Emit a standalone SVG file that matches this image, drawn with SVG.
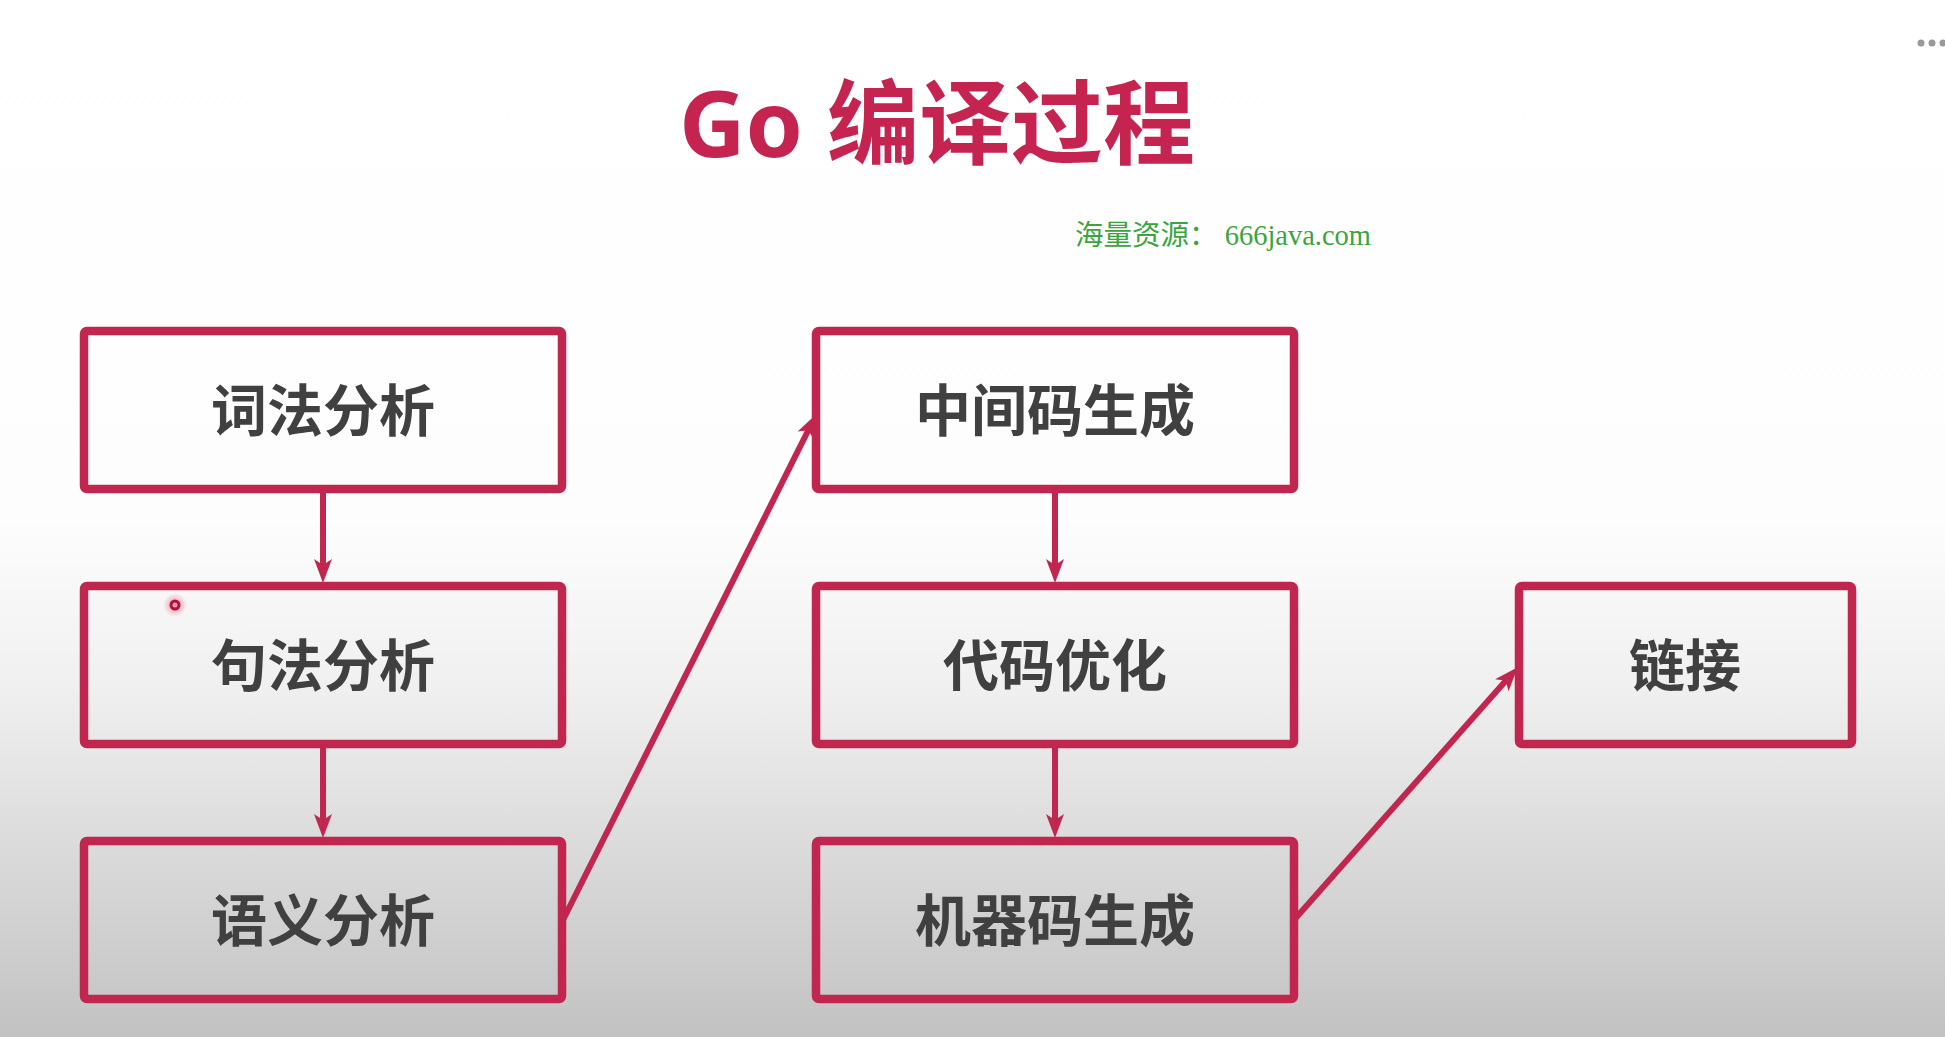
<svg xmlns="http://www.w3.org/2000/svg" width="1945" height="1037" viewBox="0 0 1945 1037">
  <defs>
    <linearGradient id="bg" x1="0" y1="0" x2="0" y2="1">
      <stop offset="0" stop-color="#ffffff"/>
      <stop offset="0.5" stop-color="#fdfdfd"/>
      <stop offset="0.66" stop-color="#f0f0f0"/>
      <stop offset="1" stop-color="#c2c2c2"/>
    </linearGradient>
    <radialGradient id="glow">
      <stop offset="0" stop-color="#f06080" stop-opacity="0.7"/>
      <stop offset="1" stop-color="#f06080" stop-opacity="0"/>
    </radialGradient>
    <marker id="arrow" viewBox="-12 -10 26 20" refX="0" refY="0" markerWidth="26" markerHeight="20" markerUnits="userSpaceOnUse" orient="auto">
      <path d="M13,0 L-11,-9 L-5,0 L-11,9 Z" fill="#c0264e"/>
    </marker>
  </defs>
  <style>
    .box { fill: none; stroke: #c0264e; stroke-width: 8.5; }
    .lbl { font-family: "Noto Sans CJK SC", "Noto Sans", sans-serif; font-weight: 700; font-size: 56px; fill: #404040; text-anchor: middle; }
    .conn { fill: none; stroke: #c0264e; stroke-width: 6; marker-end: url(#arrow); }
  </style>
  <rect x="0" y="0" width="1945" height="1037" fill="url(#bg)"/>

  <text x="937" y="157" font-family="'Noto Sans', 'Noto Sans CJK SC', sans-serif" font-weight="700" font-size="92" fill="#c4244f" text-anchor="middle">Go 编译过程</text>
  <text x="1075" y="245" font-family="'Liberation Serif', 'Noto Sans CJK SC', serif" font-size="28.5" fill="#3aa53f" xml:space="preserve">海量资源： 666java.com</text>

  <g fill="#999999">
    <circle cx="1921" cy="43" r="3.5"/>
    <circle cx="1932" cy="43" r="3.5"/>
    <circle cx="1943" cy="43" r="3.5"/>
  </g>

  <g id="connectors">
    <path class="conn" d="M323,493 L323,570"/>
    <path class="conn" d="M323,748 L323,825"/>
    <path class="conn" d="M1055,493 L1055,570"/>
    <path class="conn" d="M1055,748 L1055,825"/>
    <path class="conn" d="M562,922 L810.6,425.7"/>
    <path class="conn" d="M1294,920 L1509.1,677"/>
  </g>

  <g id="n1"><rect class="box" x="84" y="331" width="478" height="158" rx="3"/><text class="lbl" x="323" y="431">词法分析</text></g>
  <g id="n2"><rect class="box" x="84" y="586" width="478" height="158" rx="3"/><text class="lbl" x="323" y="686">句法分析</text></g>
  <g id="n3"><rect class="box" x="84" y="841" width="478" height="158" rx="3"/><text class="lbl" x="323" y="941">语义分析</text></g>
  <g id="n4"><rect class="box" x="816" y="331" width="478" height="158" rx="3"/><text class="lbl" x="1055" y="431">中间码生成</text></g>
  <g id="n5"><rect class="box" x="816" y="586" width="478" height="158" rx="3"/><text class="lbl" x="1055" y="686">代码优化</text></g>
  <g id="n6"><rect class="box" x="816" y="841" width="478" height="158" rx="3"/><text class="lbl" x="1055" y="941">机器码生成</text></g>
  <g id="n7"><rect class="box" x="1519" y="586" width="333" height="158" rx="3"/><text class="lbl" x="1685" y="686">链接</text></g>

  <circle cx="175" cy="605" r="12" fill="url(#glow)"/>
  <circle cx="175" cy="605" r="4" fill="none" stroke="#b0103a" stroke-width="3"/>
</svg>
